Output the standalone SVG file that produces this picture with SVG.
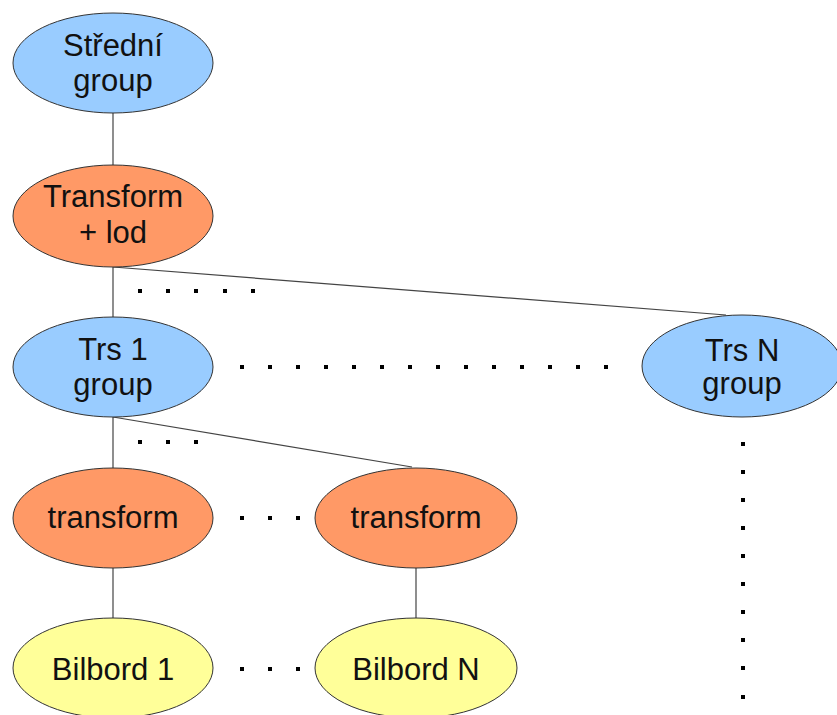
<svg xmlns="http://www.w3.org/2000/svg" width="837" height="715" viewBox="0 0 837 715">
  <style>
    .node { stroke: #333; stroke-width: 1; }
    .blue { fill: #99ccff; }
    .orange { fill: #ff9966; }
    .yellow { fill: #ffff99; }
    .lbl { font-family: "Liberation Sans", Arial, sans-serif; font-size: 31px; fill: #111; text-anchor: middle; }
    .edge { stroke: #444; stroke-width: 1.2; fill: none; }
    .dot { fill: #000; }
  </style>
  <defs>
    <rect id="d" class="dot" x="-2" y="-2" width="4" height="4"/>
  </defs>
  <rect width="837" height="715" fill="#fff"/>

  <g id="connectors">
    <line class="edge" x1="113" y1="113" x2="113" y2="165"/>
    <line class="edge" x1="113" y1="267" x2="113" y2="317"/>
    <line class="edge" x1="113" y1="267" x2="726" y2="315"/>
    <line class="edge" x1="113" y1="417" x2="113" y2="468"/>
    <line class="edge" x1="113" y1="417" x2="412" y2="467"/>
    <line class="edge" x1="113" y1="568" x2="113" y2="618"/>
    <line class="edge" x1="416" y1="568" x2="416" y2="618"/>
  </g>

  <g id="ellipsis-dots">
    <!-- under Transform + lod -->
    <use href="#d" x="140" y="291"/><use href="#d" x="168" y="291"/><use href="#d" x="196" y="291"/><use href="#d" x="225" y="291"/><use href="#d" x="253" y="291"/>
    <!-- between Trs 1 and Trs N -->
    <use href="#d" x="242" y="367"/><use href="#d" x="270" y="367"/><use href="#d" x="298" y="367"/><use href="#d" x="326" y="367"/><use href="#d" x="354" y="367"/><use href="#d" x="382" y="367"/><use href="#d" x="410" y="367"/><use href="#d" x="438" y="367"/><use href="#d" x="466" y="367"/><use href="#d" x="494" y="367"/><use href="#d" x="522" y="367"/><use href="#d" x="550" y="367"/><use href="#d" x="578" y="367"/><use href="#d" x="606" y="367"/>
    <!-- under Trs 1 -->
    <use href="#d" x="140" y="442"/><use href="#d" x="168" y="442"/><use href="#d" x="196" y="442"/>
    <!-- between transforms -->
    <use href="#d" x="242" y="518"/><use href="#d" x="270" y="518"/><use href="#d" x="298" y="518"/>
    <!-- between billboards -->
    <use href="#d" x="242" y="669"/><use href="#d" x="270" y="669"/><use href="#d" x="298" y="669"/>
    <!-- below Trs N -->
    <use href="#d" x="743" y="444"/><use href="#d" x="743" y="472"/><use href="#d" x="743" y="500"/><use href="#d" x="743" y="528"/><use href="#d" x="743" y="556"/><use href="#d" x="743" y="584"/><use href="#d" x="743" y="612"/><use href="#d" x="743" y="640"/><use href="#d" x="743" y="668"/><use href="#d" x="743" y="697"/>
  </g>

  <g id="stredni-group">
    <ellipse class="node blue" cx="113" cy="63" rx="100" ry="50"/>
    <text class="lbl" x="113" y="56">Střední</text>
    <text class="lbl" x="113" y="91">group</text>
  </g>

  <g id="transform-lod">
    <ellipse class="node orange" cx="113" cy="216" rx="100" ry="51"/>
    <text class="lbl" x="113" y="207">Transform</text>
    <text class="lbl" x="113" y="243">+ lod</text>
  </g>

  <g id="trs-1-group">
    <ellipse class="node blue" cx="113" cy="367" rx="100" ry="50"/>
    <text class="lbl" x="113" y="360">Trs 1</text>
    <text class="lbl" x="113" y="395">group</text>
  </g>

  <g id="trs-n-group">
    <ellipse class="node blue" cx="742" cy="366" rx="100" ry="51"/>
    <text class="lbl" x="742" y="361">Trs N</text>
    <text class="lbl" x="742" y="394">group</text>
  </g>

  <g id="transform-1">
    <ellipse class="node orange" cx="113" cy="518" rx="100" ry="50"/>
    <text class="lbl" x="113" y="528">transform</text>
  </g>

  <g id="transform-n">
    <ellipse class="node orange" cx="416" cy="518" rx="101" ry="50"/>
    <text class="lbl" x="416" y="528">transform</text>
  </g>

  <g id="bilbord-1">
    <ellipse class="node yellow" cx="113" cy="668" rx="100" ry="50"/>
    <text class="lbl" x="113" y="680">Bilbord 1</text>
  </g>

  <g id="bilbord-n">
    <ellipse class="node yellow" cx="416" cy="668" rx="101" ry="50"/>
    <text class="lbl" x="416" y="680">Bilbord N</text>
  </g>
</svg>
